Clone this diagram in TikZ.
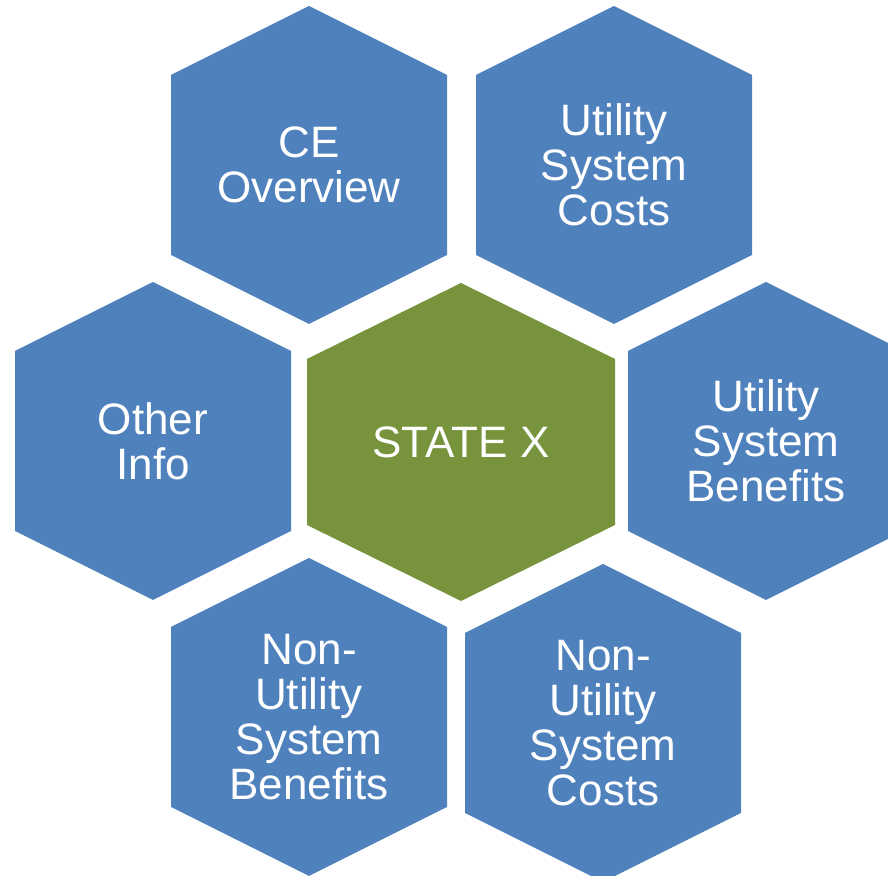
\documentclass[tikz,border=0pt]{standalone}
\usepackage{fontspec}
\setmainfont{Liberation Sans}
\usetikzlibrary{backgrounds}
\definecolor{hexblue}{HTML}{4F81BD}
\definecolor{hexgreen}{HTML}{77933C}
\tikzstyle{hlabel}=[text=white, align=center, inner sep=0pt,
                    font=\fontsize{22}{22.5}\selectfont]
\tikzstyle{bluecell}=[fill=hexblue]
\tikzstyle{greencell}=[fill=hexgreen]

\begin{document}
\begin{tikzpicture}[x=0.5pt,y=0.5pt]
\clip (0,0) rectangle (888,876);

% labels, centred in their cells
\node (SX) [hlabel] at (461,434) {STATE X};
\node (CEOV) [hlabel] at (309,711) {CE\\Overview};
\node (USC) [hlabel] at (614,711) {Utility\\System\\Costs};
\node (OINF) [hlabel] at (153,435) {Other\\Info};
\node (USB) [hlabel] at (766,435) {Utility\\System\\Benefits};
\node (NUSB) [hlabel] at (309,159) {Non-\\Utility\\System\\Benefits};
\node (NUSC) [hlabel] at (603,153) {Non-\\Utility\\System\\Costs};

% hexagons behind the labels
\begin{scope}[on background layer]
 \fill[greencell] (SX.center) ++(0,159) -- ++(154,-76) -- ++(0,-166) -- ++(-154,-76) -- ++(-154,76) -- ++(0,166) -- cycle;
 \fill[bluecell] (CEOV.center) ++(0,159) -- ++(138,-69) -- ++(0,-180) -- ++(-138,-69) -- ++(-138,69) -- ++(0,180) -- cycle;
 \fill[bluecell] (USC.center) ++(0,159) -- ++(138,-69) -- ++(0,-180) -- ++(-138,-69) -- ++(-138,69) -- ++(0,180) -- cycle;
 \fill[bluecell] (OINF.center) ++(0,159) -- ++(138,-69) -- ++(0,-180) -- ++(-138,-69) -- ++(-138,69) -- ++(0,180) -- cycle;
 \fill[bluecell] (USB.center) ++(0,159) -- ++(138,-69) -- ++(0,-180) -- ++(-138,-69) -- ++(-138,69) -- ++(0,180) -- cycle;
 \fill[bluecell] (NUSB.center) ++(0,159) -- ++(138,-69) -- ++(0,-180) -- ++(-138,-69) -- ++(-138,69) -- ++(0,180) -- cycle;
 \fill[bluecell] (NUSC.center) ++(0,159) -- ++(138,-69) -- ++(0,-180) -- ++(-138,-69) -- ++(-138,69) -- ++(0,180) -- cycle;
\end{scope}

\end{tikzpicture}
\end{document}
